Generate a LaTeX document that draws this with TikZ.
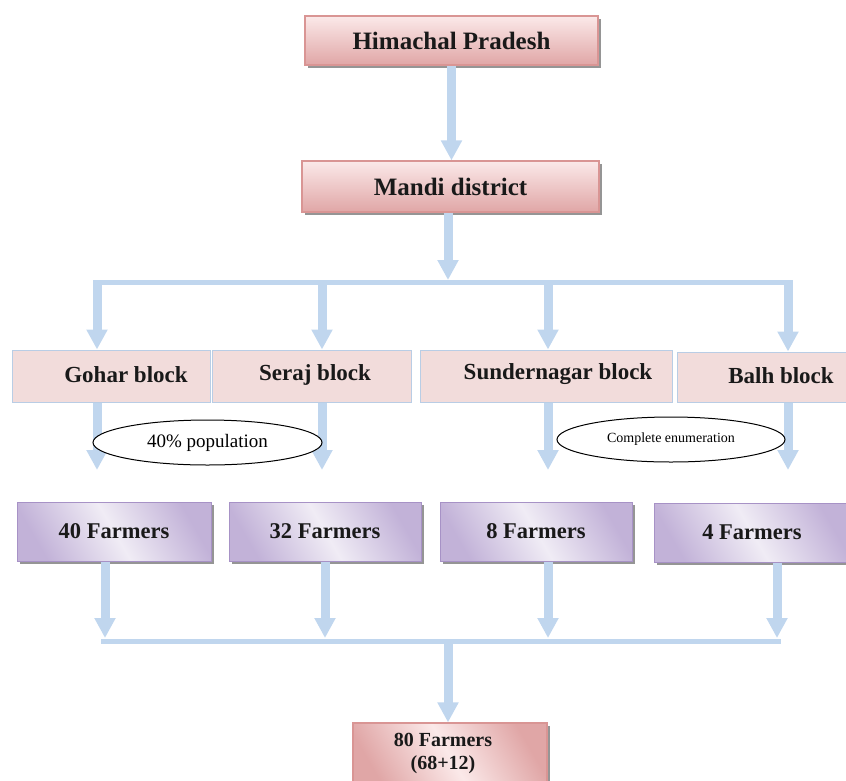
\documentclass[tikz,border=0pt]{standalone}
\usepackage{fontspec}
\setmainfont{Liberation Serif}
\usetikzlibrary{arrows.meta,shapes.geometric,shadows}
\definecolor{arrowblue}{HTML}{C0D6EE}
\definecolor{pinkL}{HTML}{FBE9E9}
\definecolor{pinkD}{HTML}{E0A6A6}
\definecolor{pinkBorder}{HTML}{D99594}
\definecolor{blockfill}{HTML}{F2DCDB}
\definecolor{blockborder}{HTML}{B9CDE5}
\definecolor{purL}{HTML}{F0ECF5}
\definecolor{purD}{HTML}{C2B2D8}
\definecolor{purBorder}{HTML}{A792C6}
\definecolor{shadowgray}{HTML}{8A8A8A}
\tikzset{
  arr/.style={draw=arrowblue, line width=9pt, -{Triangle[width=20pt,length=20pt]}},
  hline/.style={draw=arrowblue, line width=5pt},
  boxshadow/.style={drop shadow={shadow xshift=3pt, shadow yshift=-3pt, fill=shadowgray, opacity=0.9}},
  pinkbox/.style={rectangle, inner sep=0pt, draw=pinkBorder, line width=1.2pt,
    top color=pinkL, bottom color=pinkD, boxshadow,
    font=\fontsize{25}{28}\selectfont\bfseries, text=black!90},
  blockbox/.style={rectangle, inner sep=0pt, draw=blockborder, line width=1pt, fill=blockfill},
  blocktext/.style={font=\fontsize{23}{26}\selectfont\bfseries, text=black!90, inner sep=0pt},
  farmbox/.style={rectangle, inner sep=0pt, draw=purBorder, line width=1pt,
    left color=purD, right color=purD, middle color=purL, shading angle=120, boxshadow,
    font=\fontsize{22.5}{26}\selectfont\bfseries, text=black!90},
  finalbox/.style={rectangle, inner sep=0pt, draw=pinkBorder, line width=1.2pt,
    left color=pinkD, right color=pinkD, middle color=pinkL, shading angle=120, boxshadow},
  noteell/.style={ellipse, draw=black, line width=1pt, fill=white, inner sep=0pt}
}
\begin{document}
\begin{tikzpicture}[x=1pt,y=-1pt]
\useasboundingbox (0,0) rectangle (846,780);
% top boxes
\node[pinkbox, minimum width=293pt, minimum height=49pt] (hp) at (451.5,40.5) {Himachal Pradesh};
\node[pinkbox, minimum width=297pt, minimum height=51pt] (md) at (450.5,186.5) {Mandi district};
% blocks
\node[blockbox, minimum width=198pt, minimum height=52pt] (gohar) at (111,376) {};
\node[blockbox, minimum width=199pt, minimum height=52pt] (seraj) at (311.5,376) {};
\node[blockbox, minimum width=252pt, minimum height=52pt] (sund) at (546,376) {};
\node[blockbox, minimum width=183pt, minimum height=50pt] (balh) at (768.5,377) {};
\node[blocktext] (tgohar) at (126,375) {Gohar block};
\node[blocktext] (tseraj) at (315,375) {Seraj block};
\node[blocktext] (tsund) at (558,374) {Sundernagar block};
\node[blocktext] (tbalh) at (781,376) {Balh block};
% farmers
\node[farmbox, minimum width=194pt, minimum height=59pt] (f1) at (114,531.5) {40 Farmers};
\node[farmbox, minimum width=192pt, minimum height=59pt] (f2) at (325,531.5) {32 Farmers};
\node[farmbox, minimum width=192pt, minimum height=59pt] (f3) at (536,531.5) {8 Farmers};
\node[farmbox, minimum width=196pt, minimum height=59pt] (f4) at (752,532.5) {4 Farmers};
% final
\node[finalbox, minimum width=194pt, minimum height=66pt] (fin) at (450,756) {};
\node[font=\fontsize{20}{23}\selectfont\bfseries, text=black!90, align=center, inner sep=0pt] (tfin) at (443,753.5) {80 Farmers\\(68+12)};
% connectors
\draw[arr] (hp.south) -- (hp.south |- md.north);
\coordinate (jt) at (448,280);
\draw[arr] (md.south -| jt) -- (jt);
\coordinate (hl) at (93,282.5);
\coordinate (hr) at (793,282.5);
\draw[hline] (hl) -- (hr);
\coordinate (b1) at (97,280);
\coordinate (b2) at (322,280);
\coordinate (b3) at (548,280);
\coordinate (b4) at (788,280);
\draw[arr] (b1) -- (b1 |- gohar.north);
\draw[arr] (b2) -- (b2 |- seraj.north);
\draw[arr] (b3) -- (b3 |- sund.north);
\draw[arr] (b4) -- (b4 |- balh.north);
\coordinate (d1) at (97,470);
\coordinate (d2) at (322,470);
\coordinate (d3) at (548,470);
\coordinate (d4) at (788,470);
\draw[arr] (d1 |- gohar.south) -- (d1);
\draw[arr] (d2 |- seraj.south) -- (d2);
\draw[arr] (d3 |- sund.south) -- (d3);
\draw[arr] (d4 |- balh.south) -- (d4);
\coordinate (u1) at (105,638);
\coordinate (u2) at (325,638);
\coordinate (u3) at (548,638);
\coordinate (u4) at (777,638);
\draw[arr] (u1 |- f1.south) -- (u1);
\draw[arr] (u2 |- f2.south) -- (u2);
\draw[arr] (u3 |- f3.south) -- (u3);
\draw[arr] (u4 |- f4.south) -- (u4);
\coordinate (bl) at (101,641.5);
\coordinate (br) at (781,641.5);
\draw[hline] (bl) -- (br);
\coordinate (fc) at (448,641.5);
\draw[arr] (fc) -- (fc |- fin.north);
% notes
\node[noteell, minimum width=229pt, minimum height=45pt] (e1) at (207.5,442.5) {\fontsize{19}{22}\selectfont 40\% population};
\node[noteell, minimum width=228pt, minimum height=45pt] (e2) at (671,439.5) {\fontsize{14}{16}\selectfont Complete enumeration};
\end{tikzpicture}
\end{document}
